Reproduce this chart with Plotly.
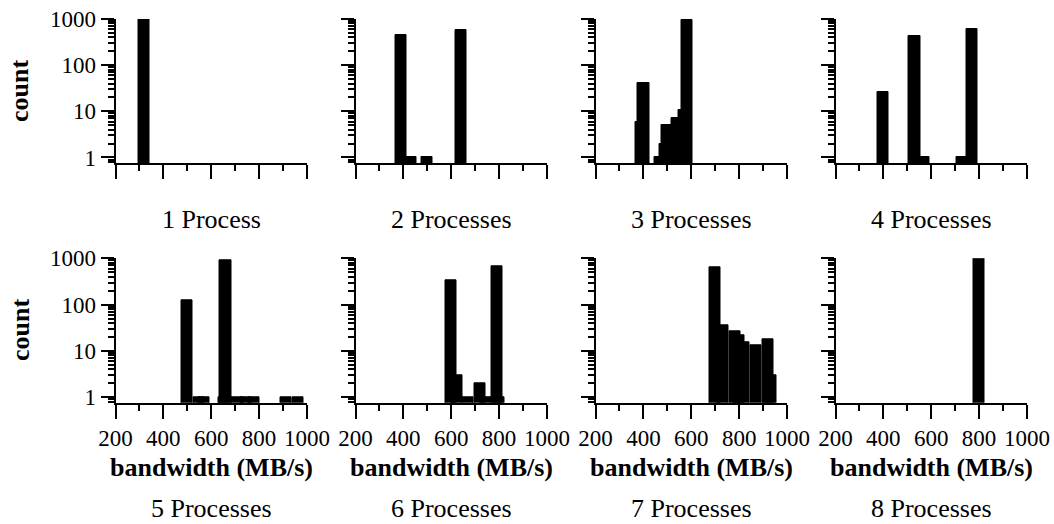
import plotly.graph_objects as go

# ---- data (bandwidth in MB/s at bar centre, count per bar) ----
bw_1 = [320]
cnt_1 = [1000]

bw_2 = [391, 430, 500, 640]
cnt_2 = [460, 1, 1, 590]

bw_3 = [389, 400, 470, 491, 500, 539, 570, 581]
cnt_3 = [6, 42, 1, 2, 5, 7, 10.5, 950]

bw_4 = [399, 530, 570, 728, 769]
cnt_4 = [26.5, 428, 1, 1, 597]

bw_5 = [499, 549, 569, 652, 660, 710, 745, 780, 911, 961]
cnt_5 = [121, 1, 1, 1, 890, 1, 1, 1, 1, 1]

bw_6 = [600, 623, 671, 721, 745, 790, 801]
cnt_6 = [328, 3, 1, 2, 1, 660, 1]

bw_7 = [700, 734, 782, 800, 821, 870, 920, 931]
cnt_7 = [628, 35, 26.5, 22, 15.3, 13.4, 17.5, 3]

bw_8 = [800]
cnt_8 = [1000]

titles = ["1 Process", "2 Processes", "3 Processes", "4 Processes",
          "5 Processes", "6 Processes", "7 Processes", "8 Processes"]
x_major = [200, 400, 600, 800, 1000]
x_minor = [300, 500, 700, 900]
y_major = [1, 10, 100, 1000]
y_major_text = ["1", "10", "100", "1000"]
y_minor = [0.8, 0.9] + [m * 10 ** e for e in range(3) for m in range(2, 10)]

panels = [(bw_1, cnt_1), (bw_2, cnt_2), (bw_3, cnt_3), (bw_4, cnt_4),
          (bw_5, cnt_5), (bw_6, cnt_6), (bw_7, cnt_7), (bw_8, cnt_8)]

W, H = 1054, 524
FONT = "Liberation Serif"
BAR_WIDTH = 47

fig = go.Figure()
layout = {}
annotations = []
rows_px = [(19, 163), (258.3, 402.7)]

for i, (bw, cnt) in enumerate(panels):
    row, col = divmod(i, 4)
    n = i + 1
    xa = "x" if n == 1 else f"x{n}"
    ya = "y" if n == 1 else f"y{n}"
    fig.add_trace(go.Bar(
        x=bw, y=cnt, width=[BAR_WIDTH] * len(bw),
        marker=dict(color="black", line=dict(width=1, color="black")),
        xaxis=xa, yaxis=ya, showlegend=False, hoverinfo="x+y",
    ))
    x0 = 115.5 + 240 * col
    x1 = 307.0 + 240 * col
    ytop, ybot = rows_px[row]
    layout["xaxis" if n == 1 else f"xaxis{n}"] = dict(
        domain=[x0 / W, x1 / W], anchor=ya, range=[200, 1000],
        automargin=False,
        tickvals=x_major, ticktext=[str(v) for v in x_major],
        ticks="outside", ticklen=14, tickwidth=2, tickcolor="black",
        showline=True, linewidth=2, linecolor="black",
        showgrid=False, zeroline=False,
        minor=dict(tickvals=x_minor, ticks="outside", ticklen=6,
                   tickwidth=2, tickcolor="black", showgrid=False),
        showticklabels=(row == 1),
        tickfont=dict(family=FONT, size=23, color="black"),
        fixedrange=True,
    )
    layout["yaxis" if n == 1 else f"yaxis{n}"] = dict(
        domain=[1 - ybot / H, 1 - ytop / H], anchor=xa, type="log",
        range=[-0.12, 3.0],
        automargin=False,
        tickvals=y_major, ticktext=y_major_text,
        ticks="outside", ticklen=13, tickwidth=2, tickcolor="black",
        showline=True, linewidth=2, linecolor="black",
        showgrid=False, zeroline=False,
        minor=dict(tickvals=y_minor, ticks="outside", ticklen=6,
                   tickwidth=1.5, tickcolor="black", showgrid=False),
        showticklabels=(col == 0),
        tickfont=dict(family=FONT, size=23, color="black"),
        fixedrange=True,
    )
    cx = (x0 + x1) / 2 / W
    if row == 0:
        annotations.append(dict(
            text=titles[i], x=cx, y=1 - 219 / H, xref="paper", yref="paper",
            showarrow=False, xanchor="center", yanchor="middle",
            font=dict(family=FONT, size=26, color="black"),
        ))
    else:
        annotations.append(dict(
            text=titles[i], x=cx, y=0, xref="paper", yref="paper",
            showarrow=False, xanchor="center", yanchor="bottom",
            borderpad=0,
            font=dict(family=FONT, size=26, color="black"),
        ))
        annotations.append(dict(
            text="<b>bandwidth (MB/s)</b>", x=cx, y=1 - 467 / H,
            xref="paper", yref="paper", showarrow=False,
            xanchor="center", yanchor="middle",
            font=dict(family=FONT, size=26, color="black"),
        ))

for yc in (91, 330):
    annotations.append(dict(
        text="<b>count</b>", x=20 / W, y=1 - yc / H, xref="paper", yref="paper",
        showarrow=False, xanchor="center", yanchor="middle", textangle=-90,
        font=dict(family=FONT, size=26, color="black"),
    ))

fig.update_layout(
    width=W, height=H,
    margin=dict(l=0, r=0, t=0, b=0, autoexpand=False),
    paper_bgcolor="white", plot_bgcolor="white",
    barmode="overlay", bargap=0,
    annotations=annotations,
    **layout,
)
fig.write_html(
    "out.html",
    config={"displayModeBar": False},
    post_script="document.body.style.margin='0';document.body.style.overflow='hidden';",
)
